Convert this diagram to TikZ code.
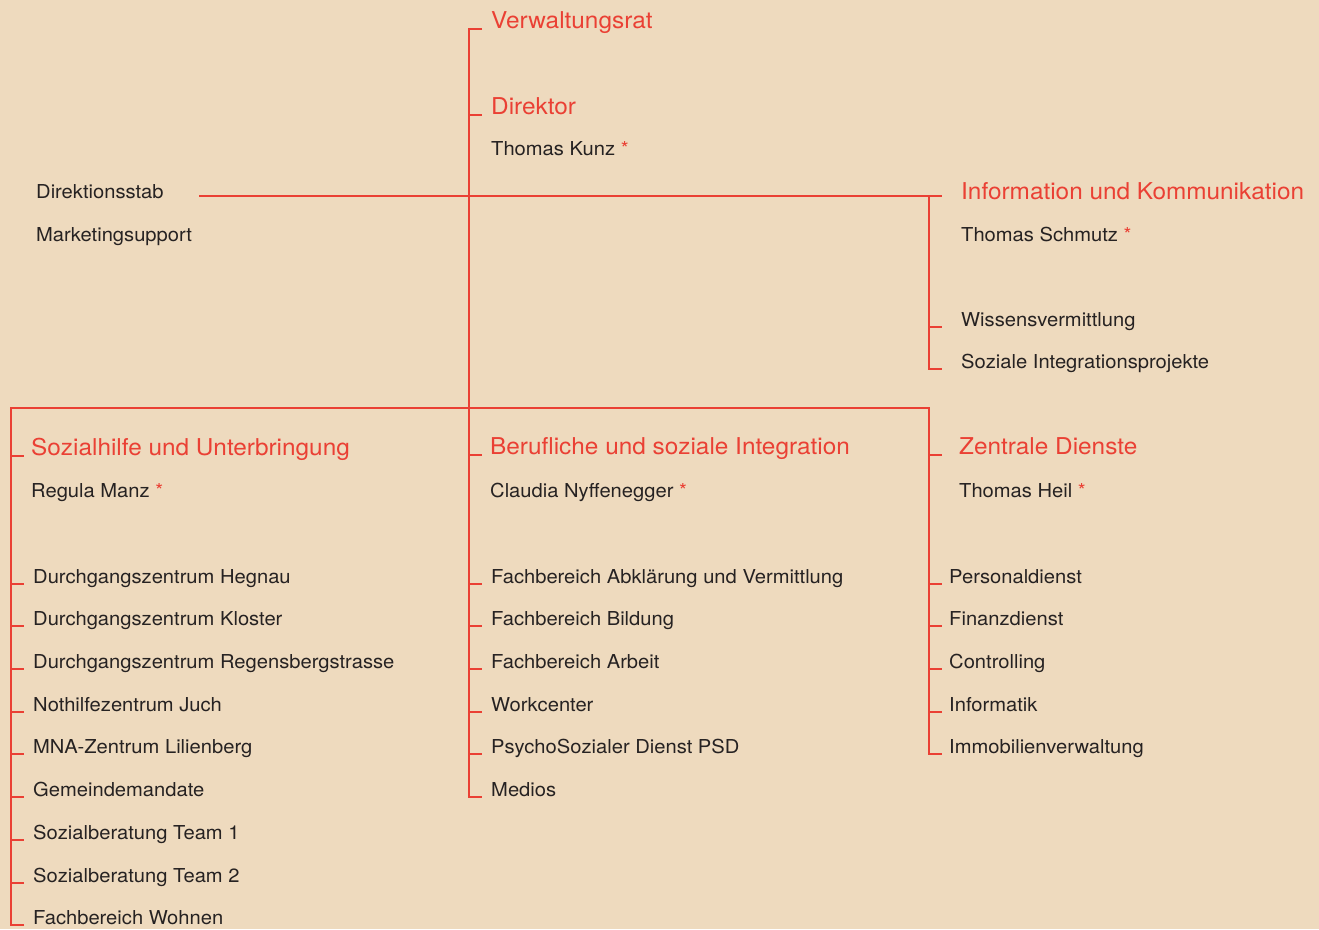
\documentclass[tikz,border=0pt]{standalone}
\usepackage{fontspec}
\setmainfont[FakeStretch=1.05]{TeX Gyre Heros}
\definecolor{bg}{RGB}{238,218,190}
\definecolor{orgred}{RGB}{234,64,52}
\definecolor{txt}{RGB}{38,34,34}
\newcommand{\rstar}{\ {\color{orgred}*}}
\tikzset{
  title/.style={anchor=base west, inner sep=0pt, text=orgred, font=\fontsize{23.2}{27}\selectfont},
  item/.style={anchor=base west, inner sep=0pt, text=txt, font=\fontsize{19.2}{23}\selectfont},
  conn/.style={draw=orgred, line width=2.8pt},
}
\begin{document}
\begin{tikzpicture}[x=1pt,y=-1pt]
\useasboundingbox (0,0) rectangle (1319,929);
\fill[bg] (0,0) rectangle (1319,929);

% line x positions and tick ends
\coordinate (T) at (469,0);  \coordinate (Te) at (482,0);
\coordinate (L) at (11,0);   \coordinate (Le) at (24,0);
\coordinate (R) at (929,0);  \coordinate (Re) at (942,0);

% top
\node[title] (vr) at (491,28) {Verwaltungsrat};
\node[title] (dir) at (491,114) {Direktor};
\node[item] (kunz) at (491,155) {Thomas Kunz\rstar};
\node[item] (stab) at (36,198) {Direktionsstab};
\node[item] (mkt) at (36,241) {Marketingsupport};
\node[title] (ik) at (961,199) {Information und Kommunikation};
\node[item] (schmutz) at (961,241) {Thomas Schmutz\rstar};
\node[item] (wiss) at (961,326) {Wissensvermittlung};
\node[item] (sip) at (961,368) {Soziale Integrationsprojekte};

% left column
\node[title] (soz) at (31,455) {Sozialhilfe und Unterbringung};
\node[item] (manz) at (31,497) {Regula Manz\rstar};
\node[item] (l1) at (33,583) {Durchgangszentrum Hegnau};
\node[item] (l2) at (33,625) {Durchgangszentrum Kloster};
\node[item] (l3) at (33,668) {Durchgangszentrum Regensbergstrasse};
\node[item] (l4) at (33,711) {Nothilfezentrum Juch};
\node[item] (l5) at (33,753) {MNA-Zentrum Lilienberg};
\node[item] (l6) at (33,796) {Gemeindemandate};
\node[item] (l7) at (33,839) {Sozialberatung Team 1};
\node[item] (l8) at (33,882) {Sozialberatung Team 2};
\node[item] (l9) at (33,924) {Fachbereich Wohnen};

% middle column
\node[title] (bsi) at (490,454) {Berufliche und soziale Integration};
\node[item] (claudia) at (490,497) {Claudia Nyffenegger\rstar};
\node[item] (m1) at (491,583) {Fachbereich Abklärung und Vermittlung};
\node[item] (m2) at (491,625) {Fachbereich Bildung};
\node[item] (m3) at (491,668) {Fachbereich Arbeit};
\node[item] (m4) at (491,711) {Workcenter};
\node[item] (m5) at (491,753) {PsychoSozialer Dienst PSD};
\node[item] (m6) at (491,796) {Medios};

% right column
\node[title] (zd) at (959,454) {Zentrale Dienste};
\node[item] (heil) at (959,497) {Thomas Heil\rstar};
\node[item] (r1) at (949,583) {Personaldienst};
\node[item] (r2) at (949,625) {Finanzdienst};
\node[item] (r3) at (949,668) {Controlling};
\node[item] (r4) at (949,711) {Informatik};
\node[item] (r5) at (949,753) {Immobilienverwaltung};

% connectors
\coordinate (barA) at (469,196);
\coordinate (barB) at (469,408);
\coordinate (stabEnd) at (199,196);
\draw[conn] ([yshift=-1pt]Te |- vr.base) -- ([yshift=-1pt]T |- vr.base) -- (barB);
\draw[conn] ([yshift=-1pt]T |- dir.base) -- ([yshift=-1pt]Te |- dir.base);
\draw[conn] (stabEnd) -- (Re |- barA);
\draw[conn] (R |- barA) -- ([yshift=-1pt]R |- sip.base) -- ([yshift=-1pt]Re |- sip.base);
\draw[conn] ([yshift=-1pt]R |- wiss.base) -- ([yshift=-1pt]Re |- wiss.base);
\draw[conn] ([yshift=-1pt]Le |- l9.base) -- ([yshift=-1pt]L |- l9.base) -- (L |- barB) -- (R |- barB) -- ([yshift=-1pt]R |- r5.base) -- ([yshift=-1pt]Re |- r5.base);
\draw[conn] (barB) -- ([yshift=-1pt]T |- m6.base) -- ([yshift=-1pt]Te |- m6.base);
\foreach \n in {soz,l1,l2,l3,l4,l5,l6,l7,l8}
  \draw[conn] ([yshift=-1pt]L |- \n.base) -- ([yshift=-1pt]Le |- \n.base);
\foreach \n in {bsi,m1,m2,m3,m4,m5}
  \draw[conn] ([yshift=-1pt]T |- \n.base) -- ([yshift=-1pt]Te |- \n.base);
\foreach \n in {zd,r1,r2,r3,r4}
  \draw[conn] ([yshift=-1pt]R |- \n.base) -- ([yshift=-1pt]Re |- \n.base);
\end{tikzpicture}
\end{document}
